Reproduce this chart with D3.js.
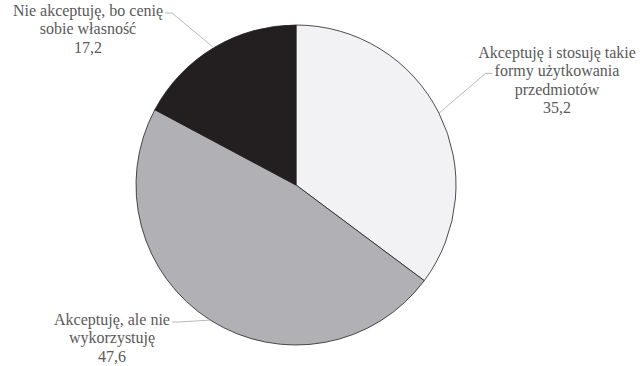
<!DOCTYPE html>
<html>
<head>
<meta charset="utf-8">
<script src="https://cdn.jsdelivr.net/npm/d3@7"></script>
<style>
  html, body { margin: 0; padding: 0; background: #fff; }
  svg { display: block; }
  .label { font-family: "Liberation Serif", "Times New Roman", Times, serif; font-size: 16px; fill: #595959; }
</style>
</head>
<body>
<div id="chart"></div>
<script>
const categories = [
    "Akceptuję i stosuję takie formy użytkowania przedmiotów",
    "Akceptuję, ale nie wykorzystuję",
    "Nie akceptuję, bo cenię sobie własność"
];
const values = [35.2, 47.6, 17.2];
const labelLines = [
    ["Akceptuję i stosuję takie", "formy użytkowania", "przedmiotów"],
    ["Akceptuję, ale nie", "wykorzystuję"],
    ["Nie akceptuję, bo cenię", "sobie własność"]
];
const colors = ["#f2f2f4", "#b1b1b5", "#231f20"];

function drawPie(containerId) {
    const width = 640, height = 366;
    const cx = 296, cy = 185, radius = 160;
    const lineH = 18.4;

    // label layout: centre x, first baseline, which line the leader hooks to, side
    const labelLayout = [
        { x: 557, y: 58, hook: 1, side: "left" },
        { x: 112, y: 325, hook: 0, side: "right" },
        { x: 88, y: 16, hook: 0, side: "right" }
    ];

    d3.select(`#${containerId}`).selectAll("*").remove();

    const svg = d3.select(`#${containerId}`)
        .append("svg")
        .attr("width", width)
        .attr("height", height);

    const pie = d3.pie().sort(null).value(d => d.value);
    const arcs = pie(values.map((v, i) => ({ value: v, i })));

    const arc = d3.arc().innerRadius(0).outerRadius(radius);

    const g = svg.append("g").attr("transform", `translate(${cx},${cy})`);

    g.selectAll(".slice")
        .data(arcs)
        .join("path")
        .attr("class", "slice")
        .attr("d", arc)
        .attr("fill", d => colors[d.index])
        .attr("stroke", "#231f20")
        .attr("stroke-width", 0.8);

    // labels
    const labels = svg.selectAll(".label")
        .data(arcs)
        .join("text")
        .attr("class", "label")
        .attr("text-anchor", "middle");

    labels.each(function (d) {
        const lay = labelLayout[d.index];
        const lines = labelLines[d.index].concat([values[d.index].toString().replace(".", ",")]);
        d3.select(this).selectAll("tspan")
            .data(lines)
            .join("tspan")
            .attr("x", lay.x)
            .attr("y", (t, j) => lay.y + j * lineH)
            .text(t => t);
    });

    // leader lines
    labels.each(function (d) {
        const lay = labelLayout[d.index];
        const tspan = d3.select(this).selectAll("tspan").nodes()[lay.hook];
        const w = tspan.getComputedTextLength();
        const ly = lay.y + lay.hook * lineH - 3;
        const mid = (d.startAngle + d.endAngle) / 2;
        const px = cx + radius * Math.sin(mid);
        const py = cy - radius * Math.cos(mid);
        let x0, x1;
        if (lay.side === "left") {
            x0 = lay.x - w / 2 - 2;
            x1 = x0 - 7;
        } else {
            x0 = lay.x + w / 2 + 2;
            x1 = x0 + 7;
        }
        svg.append("path")
            .attr("class", "leader")
            .attr("d", d3.line()([[x0, ly], [x1, ly], [px, py]]))
            .attr("fill", "none")
            .attr("stroke", "#a6a6a6")
            .attr("stroke-width", 0.8);
    });
}

drawPie("chart");
</script>
</body>
</html>
